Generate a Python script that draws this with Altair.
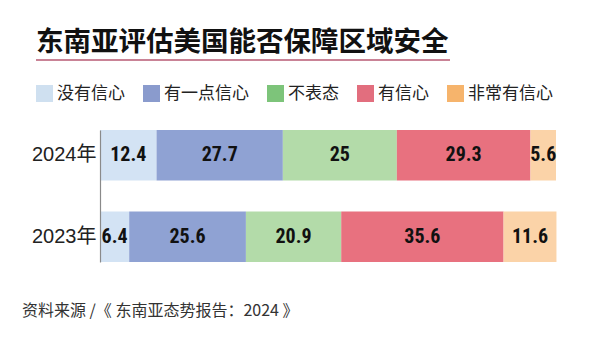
import altair as alt
import pandas as pd

years = ["2024年", "2023年"]
categories = ["没有信心", "有一点信心", "不表态", "有信心", "非常有信心"]
values_2024 = [12.4, 27.7, 25, 29.3, 5.6]
values_2023 = [6.4, 25.6, 20.9, 35.6, 11.6]
bar_colors = ["#d3e3f4", "#8fa2d3", "#b3dba9", "#e8717f", "#fbd3a8"]
legend_colors = ["#cfe0f0", "#8a9bcd", "#7dc47a", "#e26e7e", "#f6b46c"]
title_text = "东南亚评估美国能否保障区域安全"
footer_text = "资料来源 /《 东南亚态势报告：2024 》"

rows = []
for year, vals in zip(years, [values_2024, values_2023]):
    cum = 0.0
    for i, (cat, v) in enumerate(zip(categories, vals)):
        rows.append({"year": year, "cat": cat, "idx": i, "value": v,
                     "mid": cum + v / 2, "label": f"{v:g}"})
        cum += v
df = pd.DataFrame(rows)

CJK = "Noto Sans CJK SC"

y_enc = alt.Y("year:N", sort=years, title=None,
              scale=alt.Scale(paddingInner=0.38, paddingOuter=0),
              axis=alt.Axis(ticks=False, labelPadding=4, labelFontSize=20,
                            labelFont="Liberation Sans, " + CJK, labelColor="#222",
                            domainColor="#8a8a8a", domainWidth=1.2, labelAngle=0,
                            zindex=1))

x_scale = alt.Scale(domain=[0, 100], nice=False, zero=True)

base = alt.Chart(df)

bars = base.mark_bar().encode(
    x=alt.X("value:Q", stack="zero", scale=x_scale, axis=None),
    y=y_enc,
    color=alt.Color("cat:N", scale=alt.Scale(domain=categories, range=bar_colors), legend=None),
    order=alt.Order("idx:Q"),
)

legend_dummy = base.mark_square(opacity=0).encode(
    x=alt.X("mid:Q", scale=x_scale, axis=None),
    y=alt.Y("year:N", sort=years),
    color=alt.Color("cat:N", scale=alt.Scale(domain=categories, range=legend_colors),
                    legend=alt.Legend(title=None, orient="none", legendX=-64, legendY=-45,
                                      direction="horizontal", symbolType="square",
                                      symbolSize=289, symbolOpacity=1, symbolStrokeWidth=0,
                                      labelFontSize=17, labelFont=CJK, labelColor="#222",
                                      labelOffset=4, columnPadding=18, padding=0,
                                      labelLimit=200)),
)

labels = base.mark_text(fontSize=20, fontWeight="bold", color="#111",
                        font="Liberation Sans Narrow, Roboto Condensed, Liberation Sans").encode(
    x=alt.X("mid:Q", scale=x_scale, axis=None),
    y=alt.Y("year:N", sort=years),
    text="label:N",
)

title = alt.Chart(pd.DataFrame({"t": [title_text]})).mark_text(
    align="left", baseline="alphabetic", fontSize=27.5, fontWeight="bold", font=CJK, color="#111"
).encode(text="t:N", x=alt.value(-64), y=alt.value(-79))

underline = alt.Chart(pd.DataFrame({"k": [0]})).mark_rule(color="#c98396", strokeWidth=2).encode(
    x=alt.value(-64), x2=alt.value(350), y=alt.value(-70)
)

footer = alt.Chart(pd.DataFrame({"t": [footer_text]})).mark_text(
    align="left", baseline="alphabetic", fontSize=16, font=CJK, color="#333"
).encode(text="t:N", x=alt.value(-78), y=alt.value(186))

chart = alt.layer(bars, legend_dummy, labels, title, underline, footer).resolve_scale(
    color="independent"
).properties(
    width=456, height=132,
    autosize=alt.AutoSizeParams(type="none"),
    padding={"left": 92, "top": 122, "right": 36, "bottom": 86},
    background="white",
).configure_view(stroke=None)

chart.save("out.html", embed_options={"renderer": "svg", "actions": False})
